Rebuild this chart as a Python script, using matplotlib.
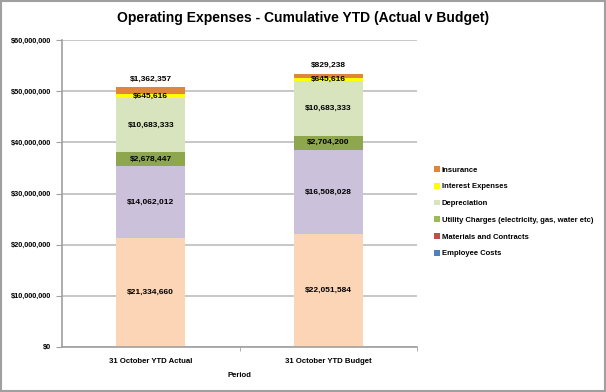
import numpy as np
import matplotlib.pyplot as plt
from matplotlib.patches import Patch, Rectangle
from matplotlib.ticker import FuncFormatter

# Data
periods = ['31 October YTD Actual', '31 October YTD Budget']
series = ['Employee Costs', 'Materials and Contracts',
          'Utility Charges (electricity, gas, water etc)', 'Depreciation',
          'Interest Expenses', 'Insurance']
employee = [21334660, 22051584]
materials = [14062012, 16508028]
utility = [2678447, 2704200]
depreciation = [10683333, 10683333]
interest = [645616, 645616]
insurance = [1362357, 829238]

values = [employee, materials, utility, depreciation, interest, insurance]
bar_colors = ['#FBD5B5', '#CCC1DA', '#8EA64E', '#D7E4BD', '#FFFF00', '#E0863C']
legend_colors = ['#4F81BD', '#C0504D', '#9BBB59', '#D7E4BD', '#FFFF00', '#E0863C']

plt.rcParams['font.family'] = ['Liberation Sans', 'DejaVu Sans']
plt.rcParams['font.weight'] = 'bold'

fig = plt.figure(figsize=(6.06, 3.92), dpi=100)
W, H = 606, 392
ax = fig.add_axes([62 / W, 1 - 347 / H, (417 - 62) / W, (347 - 40) / H])

x = np.arange(len(periods))
bottom = np.zeros(len(periods))
for k, vals in enumerate(values):
    vals = np.array(vals, dtype=float)
    ax.bar(x, vals, width=0.39, bottom=bottom, color=bar_colors[k], zorder=2)
    for i in range(len(periods)):
        lab = '${:,.0f}'.format(vals[i])
        if series[k] == 'Insurance':
            ypos = bottom[i] + vals[i] + 1.6e6
        else:
            ypos = bottom[i] + vals[i] / 2
        ax.text(x[i], ypos, lab, ha='center', va='center', fontsize=6,
                fontweight='bold', zorder=3)
    bottom += vals

ax.set_xlim(-0.5, 1.5)
ax.set_ylim(0, 60e6)
ax.set_yticks(np.arange(0, 60e6 + 1, 10e6))
ax.yaxis.set_major_formatter(FuncFormatter(lambda v, p: '${:,.0f}'.format(v)))
ax.yaxis.grid(True, color='#BDBDBD', linewidth=1.2, zorder=0)
ax.set_axisbelow(True)
ax.set_xticks(x)
ax.set_xticklabels(periods)
ax.set_xticks([0.5, 1.5], minor=True)
ax.tick_params(axis='x', which='major', length=0, labelsize=5.6, pad=8)
ax.tick_params(axis='x', which='minor', length=3, color='#A0A0A0')
ax.tick_params(axis='y', length=4, color='#A0A0A0', labelsize=5.3, pad=4)
for lab in ax.get_xticklabels() + ax.get_yticklabels():
    lab.set_fontweight('bold')
for s in ['top', 'right']:
    ax.spines[s].set_visible(False)
for s in ['left', 'bottom']:
    ax.spines[s].set_color('#A0A0A0')
    ax.spines[s].set_linewidth(1.2)
ax.set_xlabel('Period', fontsize=5.6, fontweight='bold', labelpad=5)

fig.text(0.5, 1 - 18 / H, 'Operating Expenses - Cumulative YTD (Actual v Budget)',
         ha='center', va='center', fontsize=10, fontweight='bold')

handles = [Patch(facecolor=legend_colors[k], label=series[k]) for k in range(len(series))][::-1]
fig.legend(handles=handles, loc='upper left', bbox_to_anchor=(431 / W, 1 - 163 / H),
           frameon=False, fontsize=5.5, handlelength=0.8, handleheight=0.8,
           handletextpad=0.2, labelspacing=1.2, borderaxespad=0)

fig.patches.append(Rectangle((0.002, 0.002), 0.996, 0.996, transform=fig.transFigure,
                             fill=False, edgecolor='#A0A0A0', linewidth=1.5))

fig.savefig('out.png', dpi=100)
